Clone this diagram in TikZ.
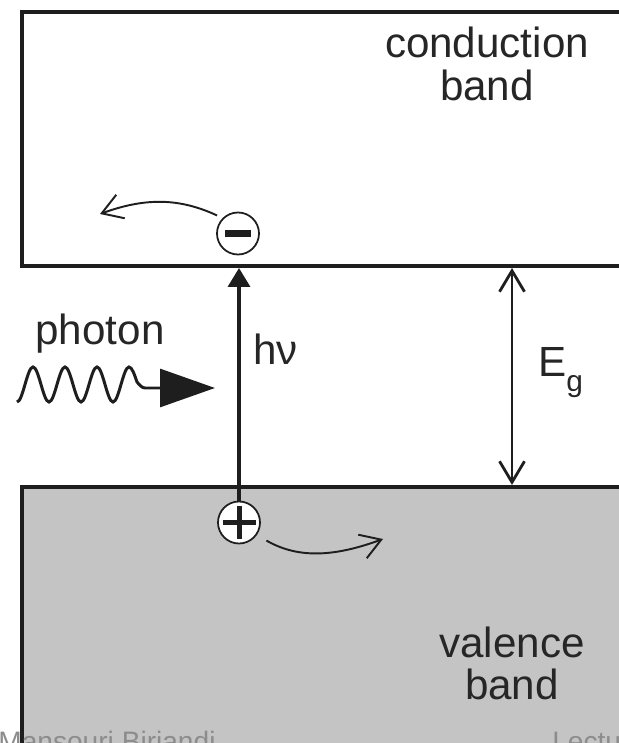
\documentclass[tikz,border=0pt]{standalone}
\usepackage{fontspec}
\setmainfont{Liberation Sans}
\usetikzlibrary{arrows.meta}
\definecolor{vbgray}{RGB}{196,196,196}
\definecolor{ink}{RGB}{30,30,30}

\begin{document}
\begin{tikzpicture}[
  font=\fontsize{24}{24}\selectfont,
  band/.style={draw=ink,line width=2.2pt,anchor=south west,minimum width=14cm,inner sep=0pt},
  charge/.style={circle,draw=ink,fill=white,line width=1pt,minimum size=0.84cm,inner sep=0pt},
  electron/.style={charge,path picture={\fill[ink] ([xshift=-0.26cm,yshift=-0.07cm]path picture bounding box.center) rectangle ++(0.52,0.14);}},
  hole/.style={charge,path picture={
      \draw[ink,line width=0.1cm] ([xshift=-0.33cm]path picture bounding box.center) -- ++(0.66,0);
      \draw[ink,line width=0.1cm] ([yshift=-0.33cm]path picture bounding box.center) -- ++(0,0.66);}},
  lbl/.style={text=black!85,inner sep=0pt},
  flow/.style={-{Triangle[length=0.38cm,width=0.44cm]},line width=2pt,draw=ink},
  gap/.style={{Straight Barb[length=0.42cm,width=0.5cm]}-{Straight Barb[length=0.42cm,width=0.5cm]},line width=1.6pt,draw=ink},
  drift/.style={-{Straight Barb[length=0.4cm,width=0.5cm]},line width=1.1pt,draw=ink},
  wavy/.style={line width=1.7pt,draw=ink,-{Triangle[length=1.1cm,width=0.76cm]}},
  foot/.style={font=\fontsize{16}{16}\selectfont,text=black!45,inner sep=0pt,anchor=base west},
]
\useasboundingbox (0,0) rectangle (12.38,14.86);
\clip (0,0) rectangle (12.38,14.86);
% the two bands (open to the right)
\node[band,minimum height=5.08cm] (cb) at (0.40,9.50) {};
\node[band,fill=vbgray,anchor=north west,minimum height=6cm] (vb) at (0.40,5.16) {};
\node[lbl,align=center] (cbl) at (9.74,13.58) {conduction\\band};
\node[lbl,align=center] (vbl) at (10.24,1.59) {valence\\band};
% electron and hole
\node[electron] (el)   at (4.76,10.19) {};
\node[hole]     (hole) at (4.78,4.41) {};
\coordinate (eend) at (2.0,10.58);
\coordinate (hend) at (7.66,4.08);
\draw[drift,shorten <=0.12cm] (el.135) to[out=155,in=20] (eend);
\draw[drift,shorten <=0.22cm] (hole.-35) to[out=-30,in=200] (hend);
% excitation
\draw[flow] (hole.north) -- (hole.north |- cb.south);
\node[lbl,anchor=base west] (hnu) at (5.06,7.56) {hν};
% band gap
\coordinate (eg) at (10.24,7.3);
\draw[gap] (eg |- cb.south) -- (eg |- vb.north);
\node[lbl,anchor=base west] (eglbl) at (10.76,7.32) {E\raisebox{-8pt}{\fontsize{17}{17}\selectfont g}};
% incoming photon
\node[lbl,anchor=base] (ph) at (2.0,7.96) {photon};
\coordinate (wave) at (0.34,6.82);
\coordinate (wtip) at (4.30,7.10);
\draw[wavy] (wave) \foreach \k in {1,2,3} {cos ++(0.16,0.35) sin ++(0.16,0.35) cos ++(0.16,-0.35) sin ++(0.16,-0.35)}
  cos ++(0.16,0.35) sin ++(0.16,0.35) cos ++(0.16,-0.30) sin ++(0.16,-0.12) -- (wtip);
% slide footer, cut by the page edge
\node[foot] (fl) at (-0.04,-0.18) {Mansouri Birjandi};
\node[foot] (fr) at (11.04,-0.18) {Lecture};
\end{tikzpicture}
\end{document}
